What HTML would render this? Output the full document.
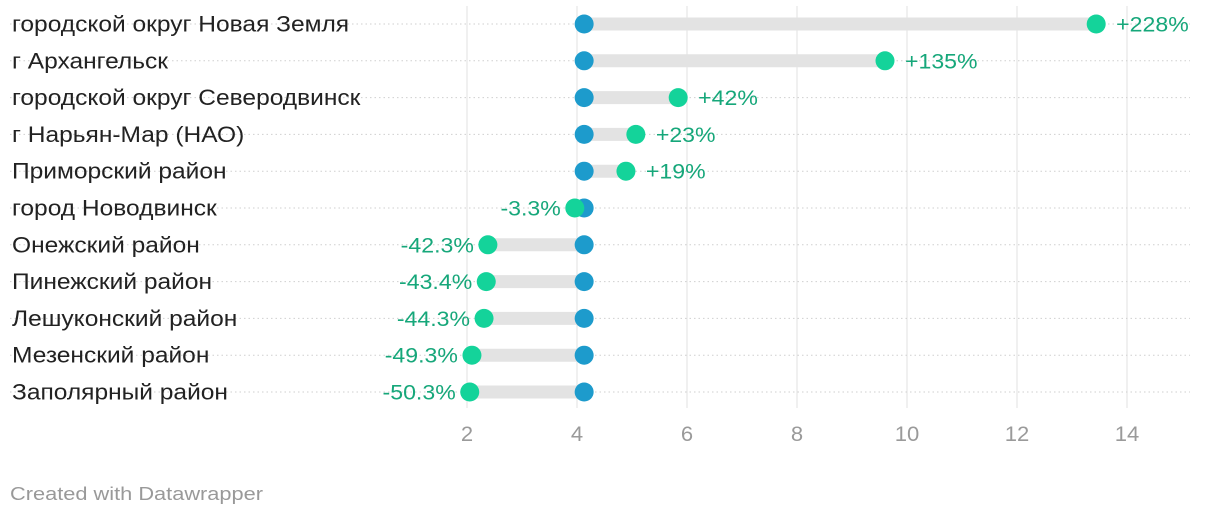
<!DOCTYPE html>
<html><head><meta charset="utf-8"><style>
body{margin:0;background:#fff;width:1220px;height:520px;overflow:hidden;font-family:"Liberation Sans",sans-serif}
</style></head><body>
<svg width="1220" height="520">
<g id="grid"></g>
<g id="rows"></g>
<g id="ticks"></g>
<text id="foot" x="10" y="500" font-size="18" fill="#999">Created with Datawrapper</text>
</svg>
<script>
const categories=["городской округ Новая Земля","г Архангельск","городской округ Северодвинск","г Нарьян-Мар (НАО)","Приморский район","город Новодвинск","Онежский район","Пинежский район","Лешуконский район","Мезенский район","Заполярный район"];
const baseValues=[4.13,4.13,4.13,4.13,4.13,4.13,4.13,4.13,4.13,4.13,4.13];
const newValues=[13.44,9.6,5.84,5.07,4.89,3.96,2.38,2.35,2.31,2.09,2.05];
const changeLabels=["+228%","+135%","+42%","+23%","+19%","-3.3%","-42.3%","-43.4%","-44.3%","-49.3%","-50.3%"];
const ticks=[2,4,6,8,10,12,14];
const NS="http://www.w3.org/2000/svg";
const x=v=>467+(v-2)*55;
const y=i=>24+i*36.8;
function mk(tag,attrs,parent){const e=document.createElementNS(NS,tag);for(const k in attrs)e.setAttribute(k,attrs[k]);parent.appendChild(e);return e;}
function stretch(el,f){const w=el.getComputedTextLength();el.setAttribute('textLength',w*f);el.setAttribute('lengthAdjust','spacingAndGlyphs');}
const grid=document.getElementById('grid'),rows=document.getElementById('rows'),tk=document.getElementById('ticks');
ticks.forEach(t=>{
 const l=mk('line',{x1:x(t),x2:x(t),y1:6,y2:408,stroke:'#e2e2e2','stroke-width':1},grid);
 
 
 const tx=mk('text',{x:x(t),y:441,'text-anchor':'middle','font-size':21,fill:'#9a9a9a'},tk);
 tx.textContent=t;
 
 
 stretch(tx,1.05);
});
categories.forEach((c,i)=>{
 const yy=y(i);
 const dl=mk('line',{x1:10,x2:1190,y1:yy,y2:yy,stroke:'#cfcfcf','stroke-width':1,'stroke-dasharray':'1.5 3'},rows);
 
 
 const lb=mk('text',{x:12,y:yy+7.5,'font-size':22,fill:'#222'},rows);
 lb.textContent=c;
 
 
 stretch(lb,1.115);
 const a=x(baseValues[i]),b=x(newValues[i]);
 const bar=mk('line',{x1:a,x2:b,y1:yy,y2:yy,stroke:'#e3e3e3','stroke-width':13},rows);
 
 
 const d1=mk('circle',{cx:a,cy:yy,r:9.5,fill:'#1d9bcc'},rows);
 
 
 const d2=mk('circle',{cx:b,cy:yy,r:9.5,fill:'#14d39a'},rows);
 
 
 const up=newValues[i]>=baseValues[i];
 const vl=mk('text',{x:up?b+20:b-14,y:yy+7.5,'text-anchor':up?'start':'end','font-size':21,fill:'#16a77a'},rows);
 vl.textContent=changeLabels[i];
 
 
 stretch(vl,1.1);
});
stretch(document.getElementById('foot'),1.21);
</script>
</body></html>
